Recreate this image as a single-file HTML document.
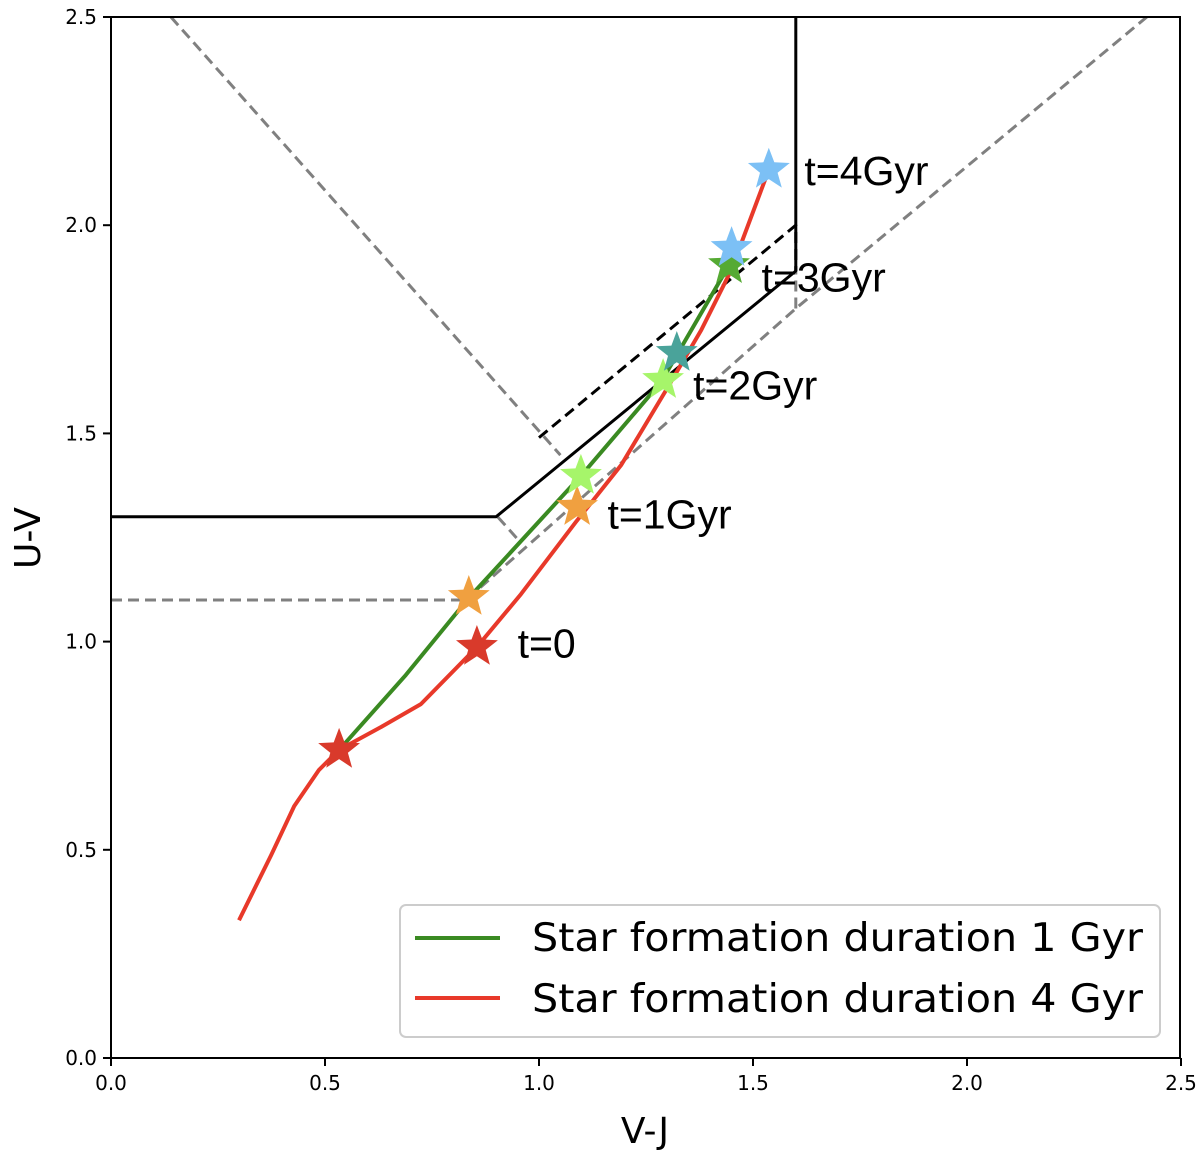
<!DOCTYPE html>
<html><head><meta charset="utf-8"><style>
html,body{margin:0;padding:0;background:#fff;}
svg{display:block;font-family:"DejaVu Sans","Liberation Sans",sans-serif;}
</style></head><body>
<svg id="chart" width="1200" height="1160" viewBox="0 0 1200 1160">
<defs><clipPath id="clip"><rect x="111" y="17" width="1069" height="1041"/></clipPath></defs>
<g id="plot" clip-path="url(#clip)"></g>
<g id="axes"></g>
<text x="645" y="1143" font-size="36" text-anchor="middle" font-family="DejaVu Sans, sans-serif">V-J</text>
<text x="40" y="538" font-size="36" text-anchor="middle" transform="rotate(-90 40 538)" font-family="DejaVu Sans, sans-serif">U-V</text>
<g>
<rect x="400" y="905" width="760" height="132" rx="6" fill="#fff" fill-opacity="0.85" stroke="#ccc" stroke-width="2"/>
<line x1="415" y1="938" x2="500" y2="938" stroke="#3a8a22" stroke-width="4"/>
<text x="532" y="951" font-size="39" textLength="611" lengthAdjust="spacingAndGlyphs" font-family="DejaVu Sans, sans-serif">Star formation duration 1 Gyr</text>
<line x1="415" y1="998" x2="500" y2="998" stroke="#e8392a" stroke-width="4"/>
<text x="532" y="1012" font-size="39" textLength="611" lengthAdjust="spacingAndGlyphs" font-family="DejaVu Sans, sans-serif">Star formation duration 4 Gyr</text>
</g>
</svg>
<script>
const xTicks=[0,0.5,1,1.5,2,2.5];
const xTickLabels=["0.0","0.5","1.0","1.5","2.0","2.5"];
const yTicks=[0,0.5,1,1.5,2,2.5];
const yTickLabels=["0.0","0.5","1.0","1.5","2.0","2.5"];
const redVJ=[0.299,0.374,0.428,0.486,0.533,0.631,0.724,0.855,0.958,1.086,1.192,1.297,1.379,1.449,1.537];
const redUV=[0.331,0.487,0.605,0.692,0.740,0.795,0.850,0.987,1.114,1.287,1.424,1.604,1.748,1.892,2.133];
const greenVJ=[0.533,0.689,0.836,1.098,1.285,1.444];
const greenUV=[0.740,0.920,1.105,1.398,1.623,1.904];
const starVJ=[0.533,0.855,0.836,1.089,1.098,1.290,1.322,1.444,1.450,1.537];
const starUV=[0.740,0.987,1.107,1.323,1.398,1.628,1.693,1.904,1.945,2.133];
const starColors=["#d93a2b","#d93a2b","#f0a040","#f0a040","#a6f56a","#a6f56a","#4aa39a","#55aa33","#7cc0f5","#7cc0f5"];
const solidBoxVJ=[0,0.9,1.6,1.6];
const solidBoxUV=[1.3,1.3,1.89,2.5];
const dashBlackVJ=[1.0,1.6,1.6];
const dashBlackUV=[1.49,2.0,1.89];
const grayHVJ=[0,0.83,1.6,2.42];
const grayHUV=[1.1,1.1,1.8,2.5];
const grayDiagVJ=[0.14,1.05];
const grayDiagUV=[2.5,1.448];
const grayCornerVJ=[0.904,0.958];
const grayCornerUV=[1.299,1.237];
const grayVertVJ=[1.6,1.6];
const grayVertUV=[1.8,1.9];
const annVJ=[0.95,1.16,1.36,1.52,1.62];
const annUV=[0.995,1.305,1.615,1.875,2.13];
const annText=["t=0","t=1Gyr","t=2Gyr","t=3Gyr","t=4Gyr"];

const X=v=>111+428*v, Y=u=>1058-416.4*u;
const NS="http://www.w3.org/2000/svg";
const plot=document.getElementById('plot'), axes=document.getElementById('axes');
function mk(tag,attrs,parent){const e=document.createElementNS(NS,tag);for(const k in attrs)e.setAttribute(k,attrs[k]);parent.appendChild(e);return e;}
function line(xs,ys,stroke,w,dash,name){
  const p=xs.map((v,i)=>X(v).toFixed(1)+","+Y(ys[i]).toFixed(1)).join(" ");
  const e=mk('polyline',{points:p,fill:'none',stroke:stroke,'stroke-width':w,'stroke-linejoin':'round'},plot);
  if(dash)e.setAttribute('stroke-dasharray',dash);
  
  
}
line(grayHVJ,grayHUV,'#808080',3,'11,6','gray-dashed-boundary');
line(grayDiagVJ,grayDiagUV,'#808080',3,'11,6','gray-dashed-diagonal');
line(grayCornerVJ,grayCornerUV,'#808080',3,'11,6','gray-dashed-corner');
line(grayVertVJ,grayVertUV,'#808080',3,'11,6','gray-dashed-vertical');
line(solidBoxVJ,solidBoxUV,'#000',3,null,'black-solid-boundary');
line(dashBlackVJ,dashBlackUV,'#000',3,'11,6','black-dashed-boundary');
line(greenVJ,greenUV,'#3a8a22',4,null,'green-track-1gyr');
line(redVJ,redUV,'#e8392a',4,null,'red-track-4gyr');
function starPath(cx,cy,R){const r=R*0.42;let d="";for(let i=0;i<10;i++){const a=-Math.PI/2+i*Math.PI/5;const rr=i%2?r:R;d+=(i?"L":"M")+(cx+rr*Math.cos(a)).toFixed(1)+","+(cy+rr*Math.sin(a)).toFixed(1);}return d+"Z";}
starVJ.forEach((v,i)=>{
  const s=mk('path',{d:starPath(X(v),Y(starUV[i]),22),fill:starColors[i]},plot);
  
  
});
annText.forEach((t,i)=>{
  const e=mk('text',{x:X(annVJ[i]),y:Y(annUV[i])+14,'font-size':41,fill:'#000','font-family':'Liberation Sans, sans-serif'},axes);
  e.textContent=t;
  
  
});
mk('rect',{x:111,y:17,width:1069,height:1041,fill:'none',stroke:'#000','stroke-width':2},axes);
xTicks.forEach((v,i)=>{
  mk('line',{x1:X(v),x2:X(v),y1:1058,y2:1066,stroke:'#000','stroke-width':2},axes);
  const t=mk('text',{x:X(v),y:1090,'font-size':20,'text-anchor':'middle'},axes);
  t.textContent=xTickLabels[i];
  
  
});
yTicks.forEach((v,i)=>{
  mk('line',{x1:103,x2:111,y1:Y(v),y2:Y(v),stroke:'#000','stroke-width':2},axes);
  const t=mk('text',{x:97,y:Y(v)+7,'font-size':20,'text-anchor':'end'},axes);
  t.textContent=yTickLabels[i];
  
  
});
</script>
</body></html>
